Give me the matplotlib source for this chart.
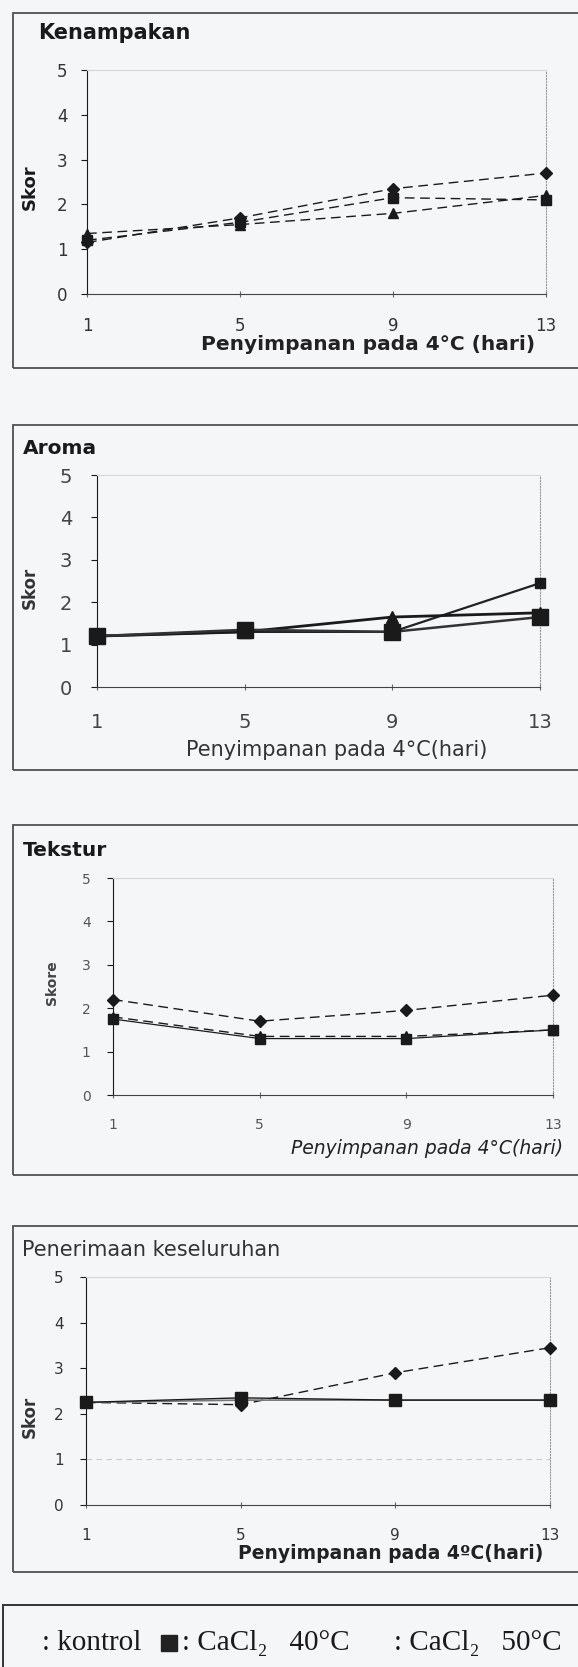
import matplotlib
matplotlib.use("Agg")
import matplotlib.pyplot as plt
from matplotlib.patches import Rectangle

# ---- data ----
hari = [1, 5, 9, 13]
yticks = [0, 1, 2, 3, 4, 5]

kenampakan_kontrol = [1.15, 1.7, 2.35, 2.7]
kenampakan_40 = [1.2, 1.6, 2.15, 2.1]
kenampakan_50 = [1.35, 1.55, 1.8, 2.2]

aroma_kontrol = [1.2, 1.3, 1.3, 2.45]
aroma_40 = [1.2, 1.35, 1.3, 1.65]
aroma_50 = [1.2, 1.3, 1.65, 1.75]

tekstur_kontrol = [2.2, 1.7, 1.95, 2.3]
tekstur_40 = [1.75, 1.3, 1.3, 1.5]
tekstur_50 = [1.8, 1.35, 1.35, 1.5]

penerimaan_kontrol = [2.25, 2.2, 2.9, 3.45]
penerimaan_40 = [2.25, 2.35, 2.3, 2.3]
penerimaan_50 = [2.25, 2.3, 2.3, 2.3]

W, H = 578, 1667
BG = "#f5f6f8"
INK = "#1a1a1a"

fig = plt.figure(figsize=(W / 100, H / 100), dpi=100, facecolor=BG)


def fx(x):
    return x / W


def fy(y):
    return 1 - y / H


def add_panel(x0, ytop, x1, ybot):
    ax = fig.add_axes([fx(x0), fy(ybot), fx(x1 - x0), (ybot - ytop) / H])
    ax.set_facecolor("none")
    ax.set_xlim(1, 13)
    ax.set_ylim(0, 5)
    ax.set_xticks(hari)
    ax.set_yticks(yticks)
    ax.spines["top"].set_color("#d4d6da")
    ax.spines["top"].set_linewidth(0.8)
    ax.spines["right"].set_linestyle(":")
    ax.spines["right"].set_color("#999999")
    ax.spines["right"].set_linewidth(0.8)
    ax.spines["left"].set_color(INK)
    ax.spines["bottom"].set_color("#444444")
    ax.tick_params(axis="y", direction="out", length=4, width=0.8, color=INK)
    ax.tick_params(axis="x", direction="inout", length=5, width=0.8, color="#666666")
    return ax


def frame(ytop, ybot, x0=13):
    fig.add_artist(Rectangle((fx(x0), fy(ybot)), 1.2, (ybot - ytop) / H,
                             transform=fig.transFigure, fill=False,
                             edgecolor="#505050", lw=1.3))


def series(ax, vals, marker, ls, color=INK, lw=1.0, ms=7):
    ax.plot(hari, vals, linestyle=ls, marker=marker, color=color, lw=lw,
            markersize=ms, markerfacecolor=INK, markeredgecolor=INK,
            clip_on=False, zorder=3)


dash = (0, (7, 4))

# ---- Kenampakan ----
frame(13, 368)
ax1 = add_panel(87, 70, 546, 294)
series(ax1, kenampakan_kontrol, "D", dash, ms=6)
series(ax1, kenampakan_40, "s", dash, ms=7)
series(ax1, kenampakan_50, "^", dash, ms=7)
ax1.tick_params(axis="both", labelsize=12, labelcolor="#333333")
ax1.tick_params(axis="y", pad=10)
ax1.tick_params(axis="x", pad=14)
fig.text(fx(38), fy(33), "Kenampakan", fontsize=15, fontweight="bold",
         va="center", ha="left", color=INK)
fig.text(fx(30), fy(187), "Skor", fontsize=13, fontweight="bold",
         rotation=90, va="center", ha="center", color=INK)
fig.text(fx(368), fy(345), "Penyimpanan pada 4\u00b0C (hari)", fontsize=14.5,
         fontweight="bold", va="center", ha="center", color="#222222")

# ---- Aroma ----
frame(425, 770)
ax2 = add_panel(97, 475, 540, 687)
series(ax2, aroma_kontrol, "s", "-", color="#222222", lw=1.6, ms=7)
series(ax2, aroma_50, "^", "-", lw=2.0, ms=9)
series(ax2, aroma_40, "s", "-", color="#333333", lw=1.8, ms=11)
ax2.tick_params(axis="both", labelsize=14, labelcolor="#444444")
ax2.tick_params(axis="y", pad=14)
ax2.tick_params(axis="x", pad=16)
fig.text(fx(23), fy(449), "Aroma", fontsize=14.5, fontweight="bold",
         va="center", ha="left", color=INK)
fig.text(fx(30), fy(588), "Skor", fontsize=12, fontweight="bold",
         rotation=90, va="center", ha="center", color="#333333")
fig.text(fx(337), fy(750), "Penyimpanan pada 4\u00b0C(hari)", fontsize=15,
         va="center", ha="center", color="#333333")

# ---- Tekstur ----
frame(825, 1175)
ax3 = add_panel(113, 878, 553, 1095)
series(ax3, tekstur_kontrol, "D", dash, ms=6)
series(ax3, tekstur_50, "^", dash, ms=7)
series(ax3, tekstur_40, "s", "-", lw=0.9, ms=7)
ax3.tick_params(axis="both", labelsize=10, labelcolor="#555555")
ax3.tick_params(axis="y", pad=12)
ax3.tick_params(axis="x", pad=14)
fig.text(fx(23), fy(850), "Tekstur", fontsize=14.5, fontweight="bold",
         va="center", ha="left", color=INK)
fig.text(fx(52), fy(983), "Skore", fontsize=10, fontweight="bold",
         rotation=90, va="center", ha="center", color="#444444")
fig.text(fx(563), fy(1148), "Penyimpanan pada 4\u00b0C(hari)", fontsize=13.5,
         style="italic", va="center", ha="right", color="#222222")

# ---- Penerimaan keseluruhan ----
frame(1226, 1572)
ax4 = add_panel(86, 1277, 550, 1505)
ax4.axhline(1, color="#c8cacd", lw=0.8, ls=(0, (5, 4)), zorder=1)
series(ax4, penerimaan_kontrol, "D", dash, ms=6)
series(ax4, penerimaan_50, "^", "-", color="#777777", lw=1.2, ms=7)
series(ax4, penerimaan_40, "s", "-", lw=1.0, ms=8)
ax4.tick_params(axis="both", labelsize=11, labelcolor="#333333")
ax4.tick_params(axis="y", pad=12)
ax4.tick_params(axis="x", pad=14)
fig.text(fx(22), fy(1250), "Penerimaan keseluruhan", fontsize=15,
         va="center", ha="left", color="#333333")
fig.text(fx(30), fy(1417), "Skor", fontsize=12, fontweight="bold",
         rotation=90, va="center", ha="center", color="#333333")
fig.text(fx(543), fy(1553), "Penyimpanan pada 4\u00baC(hari)", fontsize=13.5,
         fontweight="bold", va="center", ha="right", color="#222222")

# ---- legend box ----
fig.add_artist(Rectangle((fx(3), fy(1700)), 1.2, (1700 - 1605) / H,
                         transform=fig.transFigure, fill=False,
                         edgecolor="#333333", lw=1.4))
serif = ["Liberation Serif", "DejaVu Serif"]
fig.text(fx(42), fy(1643), ": kontrol", fontsize=21, family=serif,
         va="center", ha="left", color=INK)
fig.add_artist(Rectangle((fx(161), fy(1651)), 16 / W, 16 / H,
                         transform=fig.transFigure, facecolor="#222222",
                         edgecolor="#222222"))
fig.text(fx(182), fy(1643), ": CaCl\u2082   40\u00b0C", fontsize=21, family=serif,
         va="center", ha="left", color=INK)
fig.text(fx(394), fy(1643), ": CaCl\u2082   50\u00b0C", fontsize=21, family=serif,
         va="center", ha="left", color=INK)

fig.savefig("out.png", dpi=100, facecolor=BG)
